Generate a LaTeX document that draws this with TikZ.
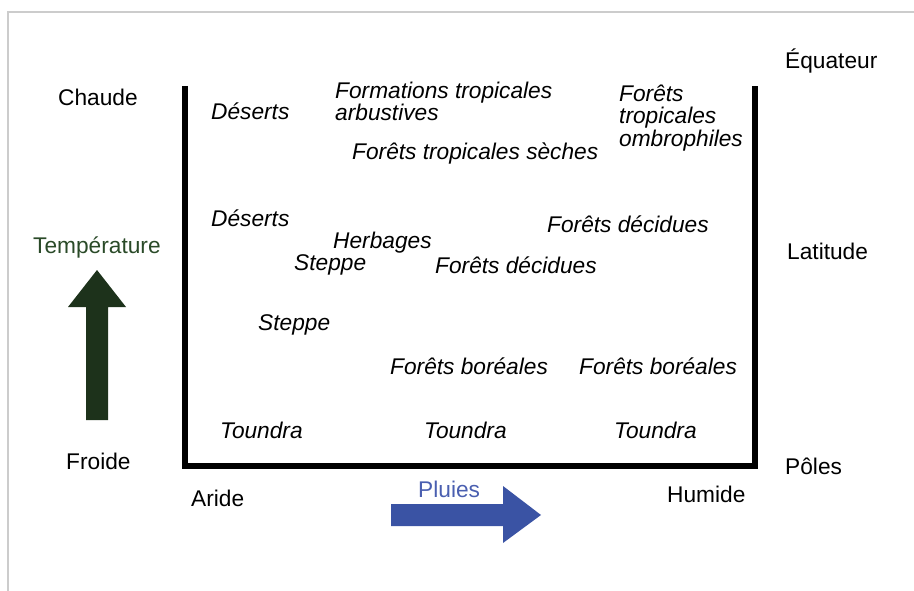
\documentclass[tikz,border=0pt]{standalone}
\usepackage{fontspec}
\setmainfont{Liberation Sans}
\definecolor{framegray}{HTML}{CCCCCC}
\definecolor{tempgreen}{HTML}{1D321B}
\definecolor{rainblue}{HTML}{3A53A4}
\definecolor{rainlabel}{HTML}{4A5FB0}
\definecolor{templabel}{HTML}{2A4A28}
\tikzset{
  lbl/.style={anchor=base west, inner sep=0pt, font=\fontsize{22.7}{26}\selectfont},
  biome/.style={lbl, font=\fontsize{22.7}{26}\selectfont\itshape},
}
\begin{document}
\begin{tikzpicture}[x=1pt,y=-1pt]
\useasboundingbox (0,0) rectangle (914,591);
% outer light frame
\draw[framegray, line width=1.5pt] (8,591) -- (8,12) -- (914,12);
% main box
\draw[line width=6pt, line join=miter] (185,86) -- (185,466) -- (755,466) -- (755,86);
% temperature arrow
\fill[tempgreen] (86,420) -- (86,307) -- (68,307) -- (97,270) -- (126,307) -- (108,307) -- (108,420) -- cycle;
% rain arrow
\fill[rainblue] (391,504) -- (503,504) -- (503,486) -- (541,515) -- (503,543) -- (503,526) -- (391,526) -- cycle;
% axis labels
\node[lbl] (equateur) at (785,69) {Équateur};
\node[lbl] (chaude) at (58,106) {Chaude};
\node[lbl, text=templabel] (temp) at (33,254) {Température};
\node[lbl] (latitude) at (787,259) {Latitude};
\node[lbl] (froide) at (66,469) {Froide};
\node[lbl] (poles) at (785,474) {Pôles};
\node[lbl] (aride) at (191,506) {Aride};
\node[lbl, text=rainlabel] (pluies) at (418,497) {Pluies};
\node[lbl] (humide) at (667,502) {Humide};
% biomes
\node[biome] (des1) at (211,120) {Déserts};
\node[biome] (form1) at (335,99) {Formations tropicales};
\node[biome] (form2) at (335,121) {arbustives};
\node[biome] (sech) at (352,160) {Forêts tropicales sèches};
\node[biome] (omb1) at (619,102) {Forêts};
\node[biome] (omb2) at (619,124) {tropicales};
\node[biome] (omb3) at (619,147) {ombrophiles};
\node[biome] (des2) at (211,226) {Déserts};
\node[biome] (dec1) at (547,233) {Forêts décidues};
\node[biome] (herb) at (333,248) {Herbages};
\node[biome] (step1) at (294,270) {Steppe};
\node[biome] (dec2) at (435,273) {Forêts décidues};
\node[biome] (step2) at (258,330) {Steppe};
\node[biome] (bor1) at (390,374) {Forêts boréales};
\node[biome] (bor2) at (579,374) {Forêts boréales};
\node[biome] (tou1) at (220,438) {Toundra};
\node[biome] (tou2) at (424,438) {Toundra};
\node[biome] (tou3) at (614,438) {Toundra};
\end{tikzpicture}
\end{document}
